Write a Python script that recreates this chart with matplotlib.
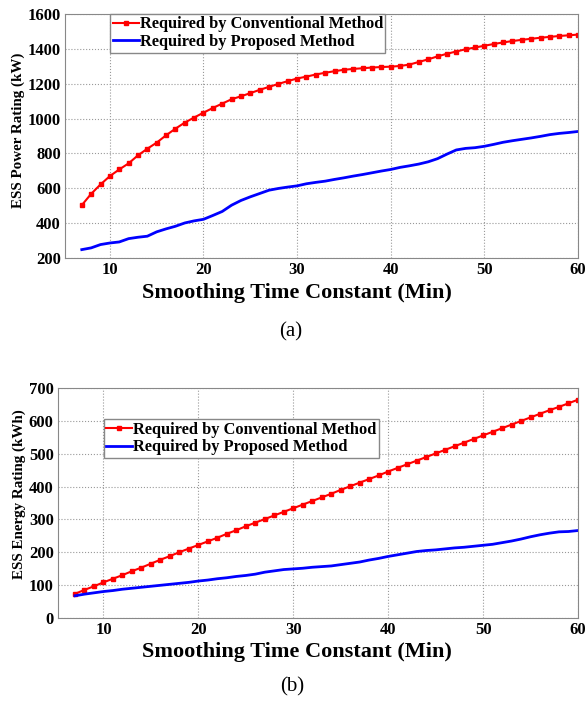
import matplotlib
matplotlib.use("Agg")
import matplotlib.pyplot as plt

# ===== Data =====
minutes = list(range(7, 61))

power_conv = [503, 568, 622, 670, 708, 743, 789, 827, 862, 904,
              942, 977, 1006, 1034, 1061, 1086, 1111, 1128, 1146, 1165,
              1182, 1199, 1215, 1230, 1241, 1253, 1263, 1272, 1280, 1285,
              1289, 1293, 1296, 1298, 1302, 1310, 1325, 1340, 1357, 1372,
              1385, 1398, 1408, 1418, 1428, 1437, 1445, 1452, 1458, 1464,
              1469, 1474, 1478, 1482]
power_prop = [248, 258, 277, 286, 292, 311, 319, 325, 350, 367,
              382, 401, 413, 422, 444, 467, 503, 530, 551, 570,
              589, 599, 607, 614, 626, 634, 641, 651, 660, 670,
              679, 689, 699, 708, 720, 729, 739, 752, 770, 796,
              820, 829, 833, 841, 852, 864, 873, 881, 889, 898,
              908, 915, 920, 926]

energy_conv = [73, 85, 96, 108, 119, 130, 142, 153, 165, 177,
               188, 200, 211, 222, 233, 244, 256, 267, 279, 290,
               301, 312, 323, 334, 345, 356, 367, 378, 390, 401,
               412, 423, 434, 446, 457, 468, 479, 490, 501, 512,
               523, 534, 545, 556, 567, 578, 589, 600, 611, 622,
               633, 643, 654, 665]
energy_prop = [67, 72, 76, 80, 83, 87, 90, 93, 96, 99,
               102, 105, 108, 112, 115, 119, 122, 126, 129, 133,
               139, 143, 147, 149, 151, 154, 156, 158, 162, 166,
               170, 176, 181, 187, 192, 197, 202, 205, 207, 210,
               213, 215, 218, 221, 224, 229, 234, 240, 247, 253,
               258, 262, 263, 266]

LABEL_CONV = "Required by Conventional Method"
LABEL_PROP = "Required by Proposed Method"

plt.rcParams["font.family"] = ["Liberation Serif", "DejaVu Serif"]
plt.rcParams["font.weight"] = "bold"

fig = plt.figure(figsize=(5.85, 7.02), dpi=100)
ax1 = fig.add_axes([0.111, 0.6325, 0.877, 0.3475])
ax2 = fig.add_axes([0.099, 0.120, 0.889, 0.327])


def style_axes(ax, ylim, yticks, ylabel, xlab_x, xlab_pad, ylab_y):
    ax.set_xlim(5.2, 60)
    ax.set_ylim(*ylim)
    ax.set_xticks([10, 20, 30, 40, 50, 60])
    ax.set_yticks(yticks)
    ax.grid(True, linestyle=":", color="#999999", linewidth=0.8)
    for sp in ax.spines.values():
        sp.set_color("#888888")
        sp.set_linewidth(0.8)
    ax.tick_params(direction="in", length=0, labelsize=12, pad=3)
    for lab in ax.get_xticklabels() + ax.get_yticklabels():
        lab.set_fontweight("bold")
    ax.set_xlabel("Smoothing Time Constant (Min)", fontsize=16,
                  fontweight="bold", labelpad=xlab_pad)
    ax.xaxis.label.set_x(xlab_x)
    ax.set_ylabel(ylabel, fontsize=10.8, fontweight="bold", labelpad=2)
    ax.yaxis.label.set_y(ylab_y)


def add_legend(ax, top):
    ax.legend(loc="upper left", bbox_to_anchor=(0.088, top),
              borderaxespad=0, fancybox=False, framealpha=1,
              edgecolor="#888888", borderpad=0.15, labelspacing=0.1,
              handlelength=1.6, handletextpad=0.05,
              prop={"size": 11.8, "weight": "bold"})


ax1.plot(minutes, power_conv, color="red", marker="s", markersize=3.5,
         linewidth=1.5, label=LABEL_CONV)
ax1.plot(minutes, power_prop, color="blue", linewidth=2, label=LABEL_PROP)
style_axes(ax1, (200, 1600), range(200, 1601, 200), "ESS Power Rating (kW)",
           0.452, 3.5, 0.525)
add_legend(ax1, 1.0)

ax2.plot(minutes, energy_conv, color="red", marker="s", markersize=3.5,
         linewidth=1.5, label=LABEL_CONV)
ax2.plot(minutes, energy_prop, color="blue", linewidth=2, label=LABEL_PROP)
style_axes(ax2, (0, 700), range(0, 701, 100), "ESS Energy Rating (kWh)",
           0.46, 3.0, 0.54)
add_legend(ax2, 0.865)

fig.text(0.497, 1 - 332 / 702, "(a)", ha="center", va="center", fontsize=15,
         fontweight="normal")
fig.text(0.50, 1 - 687 / 702, "(b)", ha="center", va="center", fontsize=15,
         fontweight="normal")

fig.savefig("out.png", dpi=100)
